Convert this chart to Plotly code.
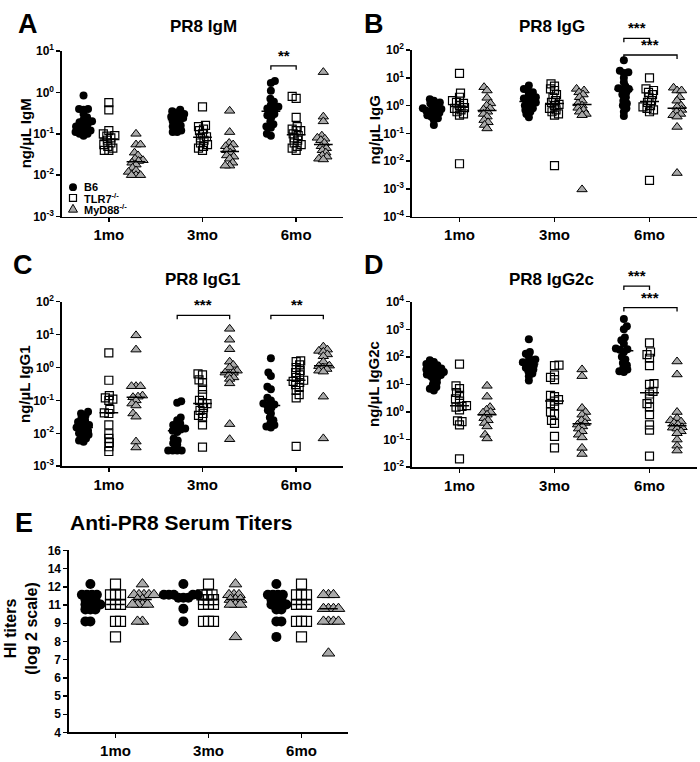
import numpy as np
import plotly.graph_objects as go

W, H = 700, 762

months = ["1mo", "3mo", "6mo"]
strain_labels = ["B6", "TLR7<sup>-/-</sup>", "MyD88<sup>-/-</sup>"]

# ---------------- Panel A: PR8 IgM (ng/uL) ----------------
igm_b6_1mo = [0.85, 0.4, 0.4, 0.38, 0.3, 0.25, 0.22, 0.2, 0.19, 0.18, 0.17, 0.15, 0.14, 0.13, 0.12, 0.11, 0.1, 0.1, 0.09, 0.12]
igm_tlr7_1mo = [0.57, 0.38, 0.12, 0.1, 0.09, 0.088, 0.08, 0.07, 0.06, 0.055, 0.05, 0.045, 0.04, 0.04]
igm_myd88_1mo = [0.1, 0.055, 0.055, 0.035, 0.03, 0.025, 0.023, 0.022, 0.02, 0.018, 0.015, 0.013, 0.012, 0.01, 0.01, 0.01]
igm_b6_3mo = [0.38, 0.35, 0.33, 0.3, 0.28, 0.26, 0.25, 0.24, 0.22, 0.2, 0.18, 0.16, 0.15, 0.14, 0.12, 0.11, 0.11]
igm_tlr7_3mo = [0.45, 0.16, 0.15, 0.13, 0.12, 0.1, 0.085, 0.08, 0.07, 0.06, 0.055, 0.05, 0.045, 0.04]
igm_myd88_3mo = [0.36, 0.11, 0.06, 0.055, 0.05, 0.045, 0.04, 0.035, 0.03, 0.028, 0.025, 0.02, 0.017, 0.017]
igm_b6_6mo = [1.9, 1.7, 1.1, 0.7, 0.6, 0.5, 0.45, 0.41, 0.4, 0.35, 0.3, 0.28, 0.25, 0.2, 0.17, 0.15, 0.14, 0.1, 0.09]
igm_tlr7_6mo = [0.8, 0.72, 0.25, 0.15, 0.13, 0.12, 0.12, 0.1, 0.09, 0.08, 0.07, 0.06, 0.055, 0.05, 0.045, 0.04]
igm_myd88_6mo = [3.1, 0.26, 0.2, 0.09, 0.08, 0.076, 0.07, 0.06, 0.05, 0.045, 0.04, 0.035, 0.03, 0.028, 0.025, 0.024]

# ---------------- Panel B: PR8 IgG ----------------
igg_b6_1mo = [1.7, 1.5, 1.3, 1.2, 1.0, 0.9, 0.8, 0.75, 0.7, 0.65, 0.6, 0.55, 0.5, 0.45, 0.4, 0.35, 0.3, 0.2]
igg_tlr7_1mo = [14.5, 2.8, 2.0, 1.5, 1.3, 1.2, 1.0, 0.85, 0.8, 0.7, 0.6, 0.5, 0.45, 0.008]
igg_myd88_1mo = [4.6, 3.5, 1.9, 1.2, 1.0, 0.8, 0.72, 0.6, 0.5, 0.4, 0.3, 0.25, 0.2, 0.15]
igg_b6_3mo = [5.3, 4.0, 3.5, 3.0, 2.5, 2.0, 1.8, 1.7, 1.5, 1.3, 1.2, 1.0, 0.9, 0.8, 0.7, 0.6, 0.5, 0.38]
igg_tlr7_3mo = [6.1, 5.0, 4.0, 3.5, 2.5, 2.0, 1.5, 1.3, 1.1, 1.0, 0.8, 0.7, 0.6, 0.5, 0.45, 0.0068]
igg_myd88_3mo = [4.0, 3.5, 3.0, 2.5, 2.0, 1.5, 1.2, 1.0, 0.83, 0.7, 0.6, 0.5, 0.45, 0.00095]
igg_b6_6mo = [43, 18, 16, 15, 10, 7, 5, 4.2, 4, 3.8, 3, 2.5, 2, 1.5, 1.2, 1.0, 0.8, 0.6, 0.42]
igg_tlr7_6mo = [10, 4, 3.5, 3, 2.5, 2, 1.5, 1.3, 1.0, 0.9, 0.8, 0.7, 0.6, 0.002]
igg_myd88_6mo = [4.4, 3.5, 3.5, 2.0, 1.5, 1.0, 0.9, 0.7, 0.6, 0.5, 0.45, 0.4, 0.17, 0.0037]

# ---------------- Panel C: PR8 IgG1 ----------------
igg1_b6_1mo = [0.045, 0.04, 0.035, 0.03, 0.025, 0.022, 0.02, 0.018, 0.016, 0.015, 0.014, 0.012, 0.011, 0.01, 0.009, 0.008, 0.007, 0.006, 0.0055]
igg1_tlr7_1mo = [2.8, 0.41, 0.14, 0.12, 0.11, 0.1, 0.053, 0.042, 0.04, 0.018, 0.0097, 0.007, 0.0052, 0.0039, 0.0028]
igg1_myd88_1mo = [9.5, 3.5, 0.27, 0.27, 0.27, 0.14, 0.13, 0.125, 0.1, 0.08, 0.07, 0.04, 0.032, 0.0056, 0.0037]
igg1_b6_3mo = [0.095, 0.085, 0.03, 0.025, 0.02, 0.018, 0.016, 0.014, 0.013, 0.012, 0.011, 0.007, 0.006, 0.005, 0.0045, 0.003, 0.003, 0.003, 0.003]
igg1_tlr7_3mo = [0.64, 0.6, 0.42, 0.35, 0.22, 0.15, 0.1, 0.08, 0.08, 0.06, 0.05, 0.04, 0.035, 0.03, 0.018, 0.0038]
igg1_myd88_3mo = [15, 7, 3.6, 1.5, 1.2, 1.0, 0.8, 0.7, 0.69, 0.6, 0.5, 0.45, 0.33, 0.019, 0.0066]
igg1_b6_6mo = [1.9, 0.7, 0.55, 0.26, 0.22, 0.12, 0.1, 0.08, 0.075, 0.07, 0.06, 0.05, 0.04, 0.03, 0.025, 0.02, 0.018, 0.016, 0.015]
igg1_tlr7_6mo = [1.6, 1.5, 1.2, 1.0, 0.8, 0.7, 0.6, 0.5, 0.41, 0.38, 0.35, 0.3, 0.25, 0.2, 0.15, 0.12, 0.004]
igg1_myd88_6mo = [4.3, 3.5, 3.2, 3.0, 2.5, 2.2, 1.5, 1.14, 1.1, 1.0, 0.9, 0.8, 0.75, 0.13, 0.007]

# ---------------- Panel D: PR8 IgG2c ----------------
igg2c_b6_1mo = [75, 65, 55, 50, 45, 40, 38, 35, 32, 30, 28, 25, 23, 22, 20, 18, 15, 12, 10, 8, 7, 6]
igg2c_tlr7_1mo = [55, 8.9, 7, 5.1, 4, 3, 2.5, 1.7, 1.6, 1.5, 1.2, 0.48, 0.45, 0.34, 0.02]
igg2c_myd88_1mo = [8.9, 3.6, 1.5, 1.2, 1.0, 0.95, 0.8, 0.6, 0.5, 0.4, 0.3, 0.15, 0.11]
igg2c_b6_3mo = [436, 150, 130, 100, 80, 70, 64, 60, 50, 45, 40, 35, 30, 25, 20, 14]
igg2c_tlr7_3mo = [50, 48, 22, 18, 15, 4, 3.6, 2.8, 2.5, 2, 1.7, 1, 0.83, 0.5, 0.39, 0.13, 0.05]
igg2c_myd88_3mo = [35, 20, 1.4, 1.0, 0.8, 0.6, 0.5, 0.4, 0.35, 0.3, 0.25, 0.2, 0.15, 0.12, 0.05, 0.03]
igg2c_b6_6mo = [2350, 1300, 1000, 500, 400, 300, 200, 190, 180, 150, 100, 80, 60, 50, 40, 35, 30, 28]
igg2c_tlr7_6mo = [320, 150, 120, 89, 48, 10.7, 10, 5.6, 4.5, 3, 2, 1.5, 0.8, 0.34, 0.22, 0.025]
igg2c_myd88_6mo = [68, 23, 1.0, 0.6, 0.5, 0.45, 0.4, 0.35, 0.28, 0.27, 0.25, 0.2, 0.17, 0.1, 0.06, 0.04]

# ---------------- Panel E: HI titers (position on the drawn tick scale) ----------------
hi_ticktext = ["4", "5", "5", "6", "7", "8", "9", "11", "12", "14", "16"]
hi_b6_1mo = [8.15, 7.56, 7.56, 7.56, 7.56, 7.3, 7.3, 7.3, 7.03, 7.03, 7.03, 7.03, 6.76, 6.76, 6.76, 6.1, 6.1]
hi_tlr7_1mo = [8.15, 7.56, 7.56, 7.56, 7.03, 7.03, 7.03, 6.1, 6.1, 5.25]
hi_myd88_1mo = [8.15, 7.56, 7.56, 7.56, 7.56, 7.56, 7.3, 7.3, 7.03, 7.03, 7.03, 7.03, 6.1, 6.1]
hi_b6_3mo = [8.15, 7.56, 7.56, 7.56, 7.56, 7.56, 7.4, 7.4, 7.4, 6.8, 6.1]
hi_tlr7_3mo = [8.15, 7.56, 7.56, 7.56, 7.3, 7.3, 7.3, 7.03, 7.03, 7.03, 6.1, 6.1, 6.1]
hi_myd88_3mo = [8.15, 7.56, 7.56, 7.56, 7.3, 7.3, 7.3, 7.03, 7.03, 7.03, 5.25]
hi_b6_6mo = [8.15, 7.56, 7.56, 7.56, 7.56, 7.3, 7.3, 7.3, 7.03, 7.03, 7.03, 7.03, 6.76, 6.76, 6.1, 6.1, 5.25]
hi_tlr7_6mo = [8.15, 7.56, 7.56, 7.56, 7.03, 7.03, 7.03, 6.1, 6.1, 6.1, 5.25]
hi_myd88_6mo = [7.56, 7.56, 7.56, 6.8, 6.8, 6.8, 6.8, 6.1, 6.1, 6.1, 6.1, 4.35]

FONT = "Liberation Sans, Arial, sans-serif"

def log_ticks(lo, hi):
    vals = [10.0 ** k for k in range(lo, hi + 1)]
    txt = ["10<sup>%d</sup>" % k for k in range(lo, hi + 1)]
    return vals, txt

panels = [
    dict(letter="A", title="PR8 IgM", ylabel="ng/µL IgM", xpx=(62, 343), ypx=(43, 212), yr=(-3, 1), log=True,
         data=[[igm_b6_1mo, igm_tlr7_1mo, igm_myd88_1mo], [igm_b6_3mo, igm_tlr7_3mo, igm_myd88_3mo],
               [igm_b6_6mo, igm_tlr7_6mo, igm_myd88_6mo]],
         letter_px=(28, 15), title_px=(203, 18), ylab_px=(25, 127)),
    dict(letter="B", title="PR8 IgG", ylabel="ng/µL IgG", xpx=(412, 697), ypx=(42, 212), yr=(-4, 2), log=True,
         data=[[igg_b6_1mo, igg_tlr7_1mo, igg_myd88_1mo], [igg_b6_3mo, igg_tlr7_3mo, igg_myd88_3mo],
               [igg_b6_6mo, igg_tlr7_6mo, igg_myd88_6mo]],
         letter_px=(374, 15), title_px=(552, 18), ylab_px=(374, 124)),
    dict(letter="C", title="PR8 IgG1", ylabel="ng/µL IgG1", xpx=(62, 343), ypx=(299, 467), yr=(-3, 2), log=True,
         data=[[igg1_b6_1mo, igg1_tlr7_1mo, igg1_myd88_1mo], [igg1_b6_3mo, igg1_tlr7_3mo, igg1_myd88_3mo],
               [igg1_b6_6mo, igg1_tlr7_6mo, igg1_myd88_6mo]],
         letter_px=(23, 261), title_px=(203, 276), ylab_px=(25, 383)),
    dict(letter="D", title="PR8 IgG2c", ylabel="ng/µL IgG2c", xpx=(412, 697), ypx=(299, 468), yr=(-2, 4), log=True,
         data=[[igg2c_b6_1mo, igg2c_tlr7_1mo, igg2c_myd88_1mo], [igg2c_b6_3mo, igg2c_tlr7_3mo, igg2c_myd88_3mo],
               [igg2c_b6_6mo, igg2c_tlr7_6mo, igg2c_myd88_6mo]],
         letter_px=(374, 261), title_px=(551, 276), ylab_px=(374, 383)),
    dict(letter="E", title="Anti-PR8 Serum Titers", ylabel="HI titers<br>(log 2 scale)", xpx=(69, 348), ypx=(553, 739),
         yr=(0, 10), log=False,
         data=[[hi_b6_1mo, hi_tlr7_1mo, hi_myd88_1mo], [hi_b6_3mo, hi_tlr7_3mo, hi_myd88_3mo],
               [hi_b6_6mo, hi_tlr7_6mo, hi_myd88_6mo]],
         letter_px=(24, 525), title_px=(181, 525), ylab_px=(21, 633)),
]

group_offsets = [-0.27, 0.0, 0.29]
symbols = ["circle", "square-open", "triangle-up"]
colors = ["black", "black", "#a9a9a9"]


def P(x, y):
    return x / W, 1 - y / H


def swarm(ypix, min_d, step=0.5):
    order = sorted(range(len(ypix)), key=lambda i: ypix[i])
    placed = []
    offs = [0.0] * len(ypix)
    for n, i in enumerate(order):
        y = ypix[i]
        k = 0
        while True:
            cands = [0.0] if k == 0 else ([k * step, -k * step] if n % 2 == 0 else [-k * step, k * step])
            found = None
            for c in cands:
                if all((c - px) ** 2 + (y - py) ** 2 >= min_d ** 2 for px, py in placed):
                    found = c
                    break
            if found is not None:
                offs[i] = found
                placed.append((found, y))
                break
            k += 1
    return offs


fig = go.Figure()
layout = dict(width=W, height=H, margin=dict(l=0, r=0, t=0, b=0), paper_bgcolor="white",
              plot_bgcolor="white", showlegend=False, annotations=[], shapes=[])

for pi, p in enumerate(panels):
    n = "" if pi == 0 else str(pi + 1)
    x0, x1 = p["xpx"]
    y0, y1 = p["ypx"]
    axstyle = dict(showline=True, linecolor="black", linewidth=1.6, ticks="outside", ticklen=4,
                   tickwidth=1.4, tickcolor="black", showgrid=False, zeroline=False)
    layout["xaxis" + n] = dict(domain=[x0 / W, x1 / W], anchor="y" + n, range=[0, 3],
                               tickvals=[0.5, 1.5, 2.5], ticktext=months,
                               tickfont=dict(family=FONT, size=15, color="black", weight="bold"), **axstyle)
    r0, r1 = p["yr"]
    if p["log"]:
        tv, tt = log_ticks(r0, r1)
        layout["yaxis" + n] = dict(domain=[1 - y1 / H, 1 - y0 / H], anchor="x" + n, type="log",
                                   range=[r0, r1], tickvals=tv, ticktext=tt,
                                   tickfont=dict(family=FONT, size=12, color="black", weight="bold"), **axstyle)
    else:
        layout["yaxis" + n] = dict(domain=[1 - y1 / H, 1 - y0 / H], anchor="x" + n,
                                   range=[r0, r1], tickvals=list(range(0, 11)), ticktext=hi_ticktext,
                                   tickfont=dict(family=FONT, size=12, color="black", weight="bold"), **axstyle)
    xppu = (x1 - x0) / 3.0
    hpx = (y1 - y0)
    msize = 8 if p["log"] else 10
    mind = 4.2 if p["log"] else 5.0
    for m in range(3):
        for s in range(3):
            vals = np.array(p["data"][m][s], dtype=float)
            if p["log"]:
                ypix = list((np.log10(vals) - r0) / (r1 - r0) * hpx)
            else:
                ypix = list((vals - r0) / (r1 - r0) * hpx)
            offs = swarm(ypix, mind)
            cx = m + 0.5 + group_offsets[s]
            xs = [cx + o / xppu for o in offs]
            sz = msize + (1 if s == 2 else 0)
            fig.add_trace(go.Scatter(
                x=xs, y=list(vals), mode="markers", xaxis="x" + n, yaxis="y" + n, cliponaxis=False,
                marker=dict(symbol=symbols[s], size=sz, color=colors[s],
                            line=dict(color="black", width=1.2 if s == 1 else (1.0 if s == 2 else 0))),
                hoverinfo="skip"))
            med = float(np.median(vals))
            fig.add_trace(go.Scatter(
                x=[cx - 0.1, cx + 0.1], y=[med, med], mode="lines", xaxis="x" + n, yaxis="y" + n,
                line=dict(color="black", width=1.5), hoverinfo="skip"))
    lx, ly = P(*p["letter_px"])
    layout["annotations"].append(dict(text="<b>%s</b>" % p["letter"], x=lx, y=ly, xref="paper", yref="paper",
                                      showarrow=False, xanchor="center", yanchor="middle",
                                      font=dict(family=FONT, size=27, color="black")))
    tx, ty = P(*p["title_px"])
    layout["annotations"].append(dict(text="<b>%s</b>" % p["title"], x=tx, y=ty, xref="paper", yref="paper",
                                      showarrow=False, xanchor="center", yanchor="middle",
                                      font=dict(family=FONT, size=21 if p["letter"] == "E" else 17, color="black")))
    yx, yy = P(*p["ylab_px"])
    layout["annotations"].append(dict(text="<b>%s</b>" % p["ylabel"], x=yx, y=yy, xref="paper", yref="paper",
                                      showarrow=False, xanchor="center", yanchor="middle", textangle=-90,
                                      font=dict(family=FONT, size=16 if p["letter"] == "E" else 15, color="black")))

# significance brackets: (panel index, month, group a, group b, top px, stars)
brackets = [
    (0, 2, 0, 1, 58, "**"),
    (1, 2, 0, 1, 30, "***"),
    (1, 2, 0, 2, 47, "***"),
    (2, 1, 0, 2, 313, "***"),
    (2, 2, 0, 2, 313, "**"),
    (3, 2, 0, 1, 283, "***"),
    (3, 2, 0, 2, 305, "***"),
]
for pi, m, a, b, ypx_top, stars in brackets:
    n = "" if pi == 0 else str(pi + 1)
    xa = m + 0.5 + group_offsets[a]
    xb = m + 0.5 + group_offsets[b]
    yt = 1 - ypx_top / H
    yb = 1 - (ypx_top + 4) / H
    layout["shapes"].append(dict(type="path", xref="x" + n, yref="paper",
                                 path="M %f,%f L %f,%f L %f,%f L %f,%f" % (xa, yb, xa, yt, xb, yt, xb, yb),
                                 line=dict(color="black", width=1.3)))
    layout["annotations"].append(dict(text="<b>%s</b>" % stars, x=(xa + xb) / 2, y=yt, xref="x" + n, yref="paper",
                                      showarrow=False, xanchor="center", yanchor="bottom",
                                      font=dict(family=FONT, size=15, color="black")))

# legend (panel A, lower left)
leg_rows = [182, 193, 204]
lx = 73
c = [P(lx - 4, leg_rows[0] - 4), P(lx + 4, leg_rows[0] + 4)]
layout["shapes"].append(dict(type="circle", xref="paper", yref="paper", x0=c[0][0], y0=c[0][1], x1=c[1][0], y1=c[1][1],
                             fillcolor="black", line=dict(color="black", width=0)))
c = [P(lx - 3.5, leg_rows[1] - 3.5), P(lx + 3.5, leg_rows[1] + 3.5)]
layout["shapes"].append(dict(type="rect", xref="paper", yref="paper", x0=c[0][0], y0=c[0][1], x1=c[1][0], y1=c[1][1],
                             line=dict(color="black", width=1.2)))
t1, t2, t3 = P(lx, leg_rows[2] - 4.5), P(lx + 4.5, leg_rows[2] + 3.5), P(lx - 4.5, leg_rows[2] + 3.5)
layout["shapes"].append(dict(type="path", xref="paper", yref="paper",
                             path="M %f,%f L %f,%f L %f,%f Z" % (t1[0], t1[1], t2[0], t2[1], t3[0], t3[1]),
                             fillcolor="#a9a9a9", line=dict(color="black", width=1)))
for row, lab in zip(leg_rows, strain_labels):
    ax, ay = P(82, row)
    layout["annotations"].append(dict(text="<b>%s</b>" % lab, x=ax, y=ay, xref="paper", yref="paper",
                                      showarrow=False, xanchor="left", yanchor="middle",
                                      font=dict(family=FONT, size=11, color="black")))

fig.update_layout(**layout)
fig.write_html("out.html", config={"displayModeBar": False, "staticPlot": True},
               post_script="document.body.style.margin='0px';")
